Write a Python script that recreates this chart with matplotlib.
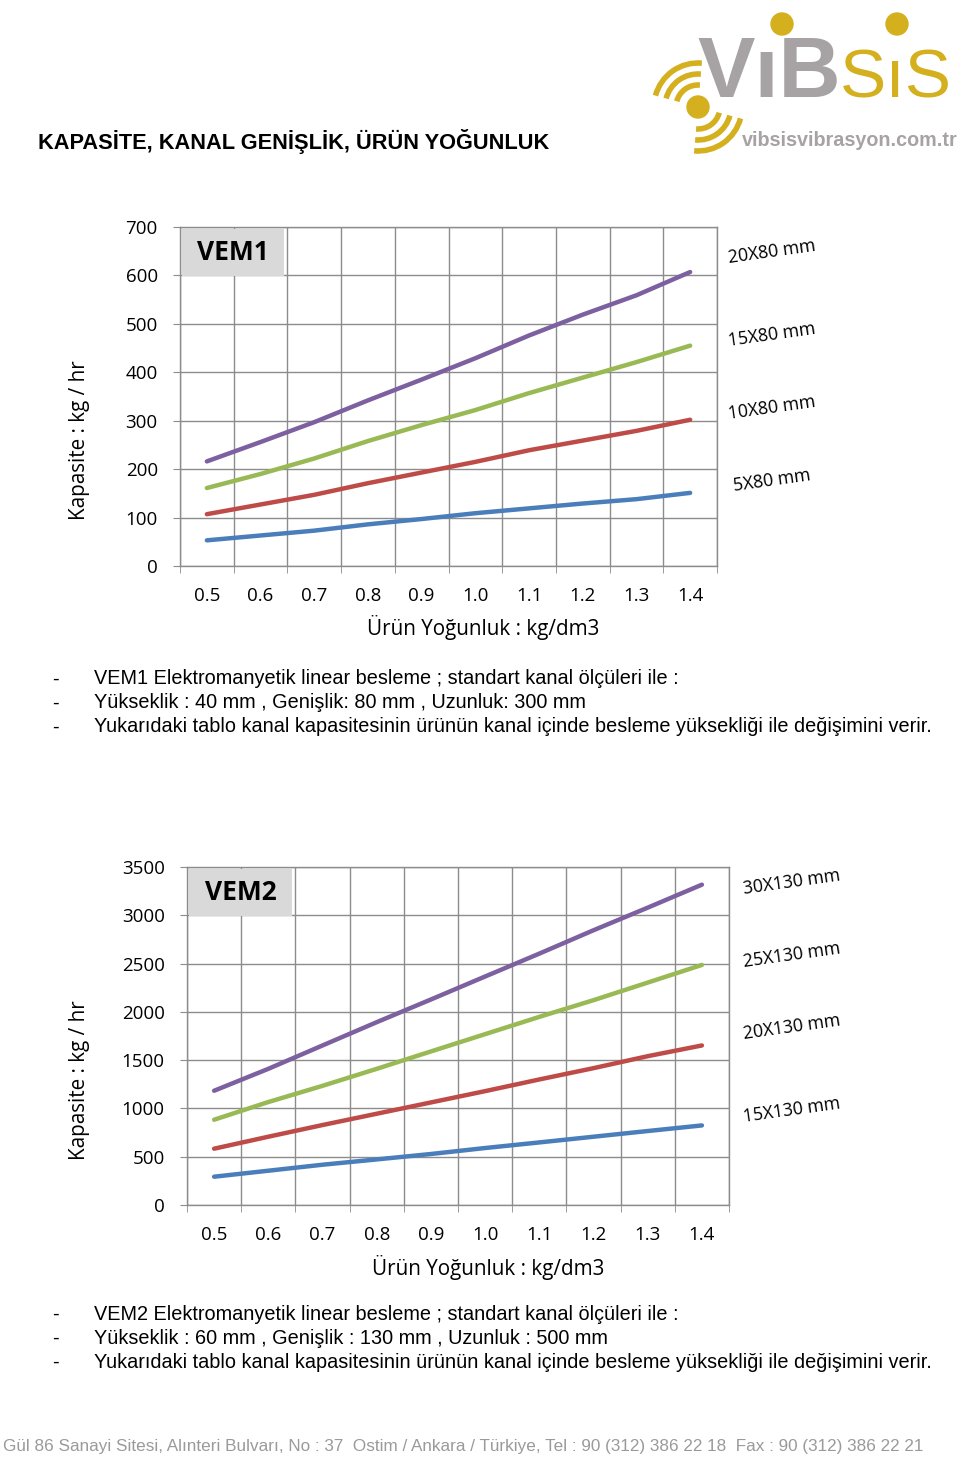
import matplotlib
matplotlib.use("Agg")
import matplotlib.pyplot as plt
from matplotlib.patches import Rectangle, Circle, Arc

# Data
x_labels = ['0.5', '0.6', '0.7', '0.8', '0.9', '1.0', '1.1', '1.2', '1.3', '1.4']

vem1_5x80 = [53, 63, 73, 86, 97, 109, 119, 129, 138, 151]
vem1_10x80 = [107, 127, 147, 171, 193, 215, 239, 259, 279, 302]
vem1_15x80 = [161, 190, 222, 258, 291, 322, 357, 389, 421, 455]
vem1_20x80 = [216, 256, 297, 342, 385, 429, 476, 519, 559, 607]
vem1_names = ['5X80 mm', '10X80 mm', '15X80 mm', '20X80 mm']
vem1_name_y = [481, 408, 335, 252]

vem2_15x130 = [293, 355, 417, 472, 528, 590, 648, 707, 766, 824]
vem2_20x130 = [583, 707, 828, 945, 1062, 1179, 1300, 1417, 1541, 1652]
vem2_25x130 = [883, 1066, 1234, 1410, 1590, 1769, 1948, 2121, 2303, 2486]
vem2_30x130 = [1183, 1410, 1652, 1893, 2128, 2366, 2603, 2845, 3079, 3317]
vem2_names = ['15X130 mm', '20X130 mm', '25X130 mm', '30X130 mm']
vem2_name_y = [1110, 1027, 955, 882]

colors = ['#4a7ebb', '#be4b48', '#98b954', '#7d60a0']
chart_font = 'Open Sans'
W, H = 960, 1460

fig = plt.figure(figsize=(9.6, 14.6), dpi=100)


def px_axes(left, top, right, bottom):
    return fig.add_axes([left / W, 1 - bottom / H, (right - left) / W, (bottom - top) / H])


def draw_chart(ax, series, ymax, ystep, title):
    xs = list(range(len(x_labels)))
    for vals, c in zip(series, colors):
        ax.plot(xs, vals, color=c, lw=3.2, solid_capstyle='round', zorder=3)
    ax.set_xlim(-0.5, len(x_labels) - 0.5)
    ax.set_ylim(0, ymax)
    ax.set_yticks(range(0, ymax + 1, ystep))
    ax.set_xticks(xs)
    ax.set_xticklabels(x_labels)
    ax.set_xticks([i - 0.5 for i in range(len(x_labels) + 1)], minor=True)
    ax.grid(True, which='minor', axis='x', color='#8c8c8c', lw=1.0)
    ax.grid(True, which='major', axis='y', color='#8c8c8c', lw=1.0)
    ax.tick_params(axis='x', which='major', length=0, pad=15, labelsize=13.5)
    ax.tick_params(axis='x', which='minor', length=5, color='#8c8c8c', direction='out')
    ax.tick_params(axis='y', length=5, color='#8c8c8c', pad=11, labelsize=13.5)
    for lab in ax.get_xticklabels() + ax.get_yticklabels():
        lab.set_family(chart_font)
    for s in ax.spines.values():
        s.set_color('#8c8c8c')
        s.set_linewidth(1.0)
    ax.set_axisbelow(True)
    # grey title box in the top-left corner
    ax.add_patch(Rectangle((0.004, 0.855), 0.19, 0.14, transform=ax.transAxes,
                           facecolor='#d9d9d9', edgecolor='none', zorder=4))
    ax.text(0.099, 0.925, title, transform=ax.transAxes, ha='center', va='center',
            fontsize=19, fontweight='bold', family=chart_font, zorder=5)


ax1 = px_axes(180, 227, 717, 566)
draw_chart(ax1, [vem1_5x80, vem1_10x80, vem1_15x80, vem1_20x80], 700, 100, 'VEM1')

ax2 = px_axes(187, 867, 729, 1205)
draw_chart(ax2, [vem2_15x130, vem2_20x130, vem2_25x130, vem2_30x130], 3500, 500, 'VEM2')

# overlay in pixel coordinates for the free text and the logo
ov = fig.add_axes([0, 0, 1, 1], zorder=10)
ov.set_xlim(0, W)
ov.set_ylim(H, 0)
ov.axis('off')
ov.patch.set_visible(False)

for name, y in zip(vem1_names, vem1_name_y):
    ov.text(772, y, name, ha='center', va='center', rotation=8, fontsize=12.7, family=chart_font)
for name, y in zip(vem2_names, vem2_name_y):
    ov.text(792, y, name, ha='center', va='center', rotation=8, fontsize=12.7, family=chart_font)

ov.text(483, 628, 'Ürün Yoğunluk : kg/dm3', ha='center', va='center', fontsize=14.9, family=chart_font)
ov.text(80, 440, 'Kapasite : kg / hr', ha='center', va='center', rotation=90, fontsize=14.9, family=chart_font)
ov.text(488, 1268, 'Ürün Yoğunluk : kg/dm3', ha='center', va='center', fontsize=14.9, family=chart_font)
ov.text(80, 1080, 'Kapasite : kg / hr', ha='center', va='center', rotation=90, fontsize=14.9, family=chart_font)

ov.text(38, 141, 'KAPASİTE, KANAL GENİŞLİK, ÜRÜN YOĞUNLUK', ha='left', va='center',
        fontsize=15.7, fontweight='bold', family='Liberation Sans')

notes1 = ['VEM1 Elektromanyetik linear besleme ; standart kanal ölçüleri ile :',
          'Yükseklik : 40 mm , Genişlik: 80 mm , Uzunluk: 300 mm',
          'Yukarıdaki tablo kanal kapasitesinin ürünün kanal içinde besleme yüksekliği ile değişimini verir.']
notes2 = ['VEM2 Elektromanyetik linear besleme ; standart kanal ölçüleri ile :',
          'Yükseklik : 60 mm , Genişlik : 130 mm , Uzunluk : 500 mm',
          'Yukarıdaki tablo kanal kapasitesinin ürünün kanal içinde besleme yüksekliği ile değişimini verir.']
for notes, y0 in [(notes1, 679), (notes2, 1314)]:
    for i, line in enumerate(notes):
        y = y0 + i * 24
        ov.text(55, y, '-', ha='center', va='center', fontsize=14.3, family='Liberation Sans')
        ov.text(94, y, line, ha='left', va='center', fontsize=14.3, family='Liberation Sans')

ov.text(3, 1447, 'Gül 86 Sanayi Sitesi, Alınteri Bulvarı, No : 37  Ostim / Ankara / Türkiye, Tel : 90 (312) 386 22 18  Fax : 90 (312) 386 22 21',
        ha='left', va='center', fontsize=12.3, color='#9a9a9a', family='Liberation Sans')

# logo
gray = '#a7a2a3'
gold = '#d4b01e'
ov.text(697, 97, 'VıB', ha='left', va='baseline', fontsize=62, fontweight='bold',
        color=gray, family='Liberation Sans')
ov.text(840, 97, 'SıS', ha='left', va='baseline', fontsize=50, color=gold,
        family='Liberation Sans')
ov.add_patch(Circle((782, 24), 11, color=gold))
ov.add_patch(Circle((897, 24), 11, color=gold))
ov.add_patch(Circle((698, 107), 11, color=gold))
for r in [22, 33, 44]:
    ov.add_patch(Arc((698, 107), 2 * r, 2 * r, theta1=195, theta2=275, color=gold, lw=4))
    ov.add_patch(Arc((698, 107), 2 * r, 2 * r, theta1=15, theta2=95, color=gold, lw=4))
ov.text(958, 141, 'vibsisvibrasyon.com.tr', ha='right', va='center', fontsize=14.2,
        fontweight='bold', color='#a7a2a3', family='Liberation Sans')

fig.savefig('out.png', dpi=100)
